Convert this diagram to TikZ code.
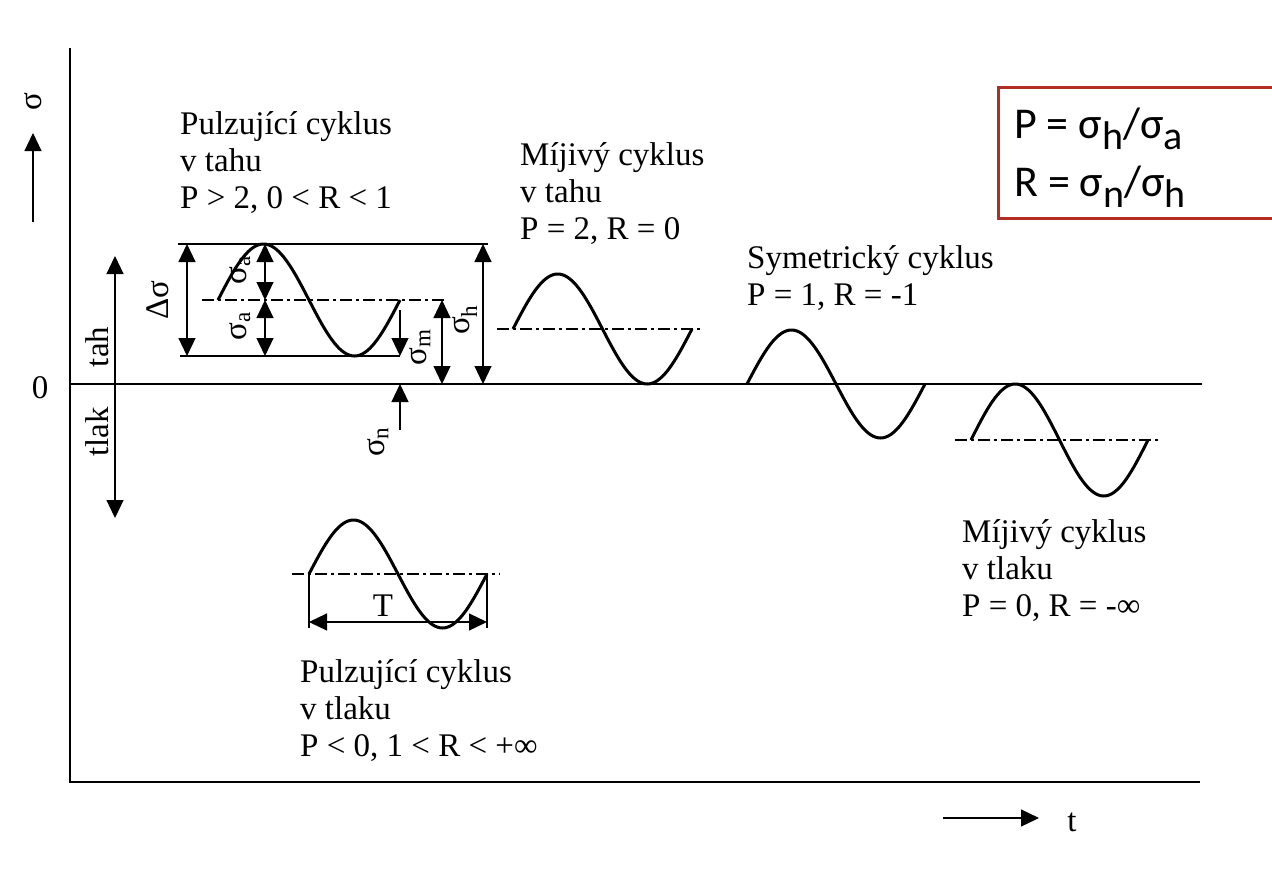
\documentclass[tikz,border=0pt]{standalone}
\usepackage{fontspec}
\setmainfont{Liberation Serif}
\newfontfamily\boxfont{Carlito}
\usetikzlibrary{arrows.meta}
\definecolor{boxred}{RGB}{180,45,35}
\newcommand\boxsub[1]{\raisebox{-11pt}{\fontsize{40}{40}\selectfont #1}}
\begin{document}
\begin{tikzpicture}[x=1pt,y=-1pt,
  axis/.style={line width=1.6pt},
  wave/.style={line width=3pt},
  dim/.style={line width=1.2pt},
  midline/.style={line width=1.3pt, dash pattern=on 12pt off 4pt on 3pt off 4pt},
  tip/.style={-{Triangle[length=18pt,width=17pt]}},
  dtip/.style={{Triangle[length=18pt,width=17pt]}-{Triangle[length=18pt,width=17pt]}},
  lbl/.style={font=\fontsize{33}{37}\selectfont, align=left, anchor=west, inner sep=0pt},
  rlbl/.style={font=\fontsize{33}{33}\selectfont, rotate=90, inner sep=0pt},
  flbl/.style={font=\boxfont\fontsize{44}{44}\selectfont, anchor=base west, inner sep=0pt},
]
\useasboundingbox (0,0) rectangle (1272,868);
\fill[white] (0,0) rectangle (1272,868);

% axes
\coordinate (O) at (70,384);
\coordinate (ytop) at (70,48);
\coordinate (ybot) at (70,782);
\coordinate (xend) at (1202,384);
\coordinate (bend) at (1200,782);
\draw[axis] (ytop) -- (ybot) -- (bend);
\draw[axis] (O) -- (xend);
\node[font=\fontsize{33}{33}\selectfont] (zero) at (40,388) {0};

% sigma axis arrow
\coordinate (sa1) at (33,222);
\coordinate (sa2) at (33,133);
\draw[dim,tip] (sa1) -- (sa2);
\node[rlbl] (sig) at (33,102) {σ};

% t arrow
\coordinate (ta1) at (943,818);
\coordinate (ta2) at (1039,818);
\draw[dim,tip] (ta1) -- (ta2);
\node[font=\fontsize{33}{33}\selectfont] (tlab) at (1072,822) {t};

% tah / tlak
\coordinate (tt) at (115,256);
\coordinate (tb) at (115,518);
\draw[dim,dtip] (tb) -- (tt);
\node[rlbl] (tah) at (97,347) {tah};
\node[rlbl] (tlak) at (97,432) {tlak};

% ---- Pulzujici cyklus v tahu
\coordinate (ptl) at (178,244); \coordinate (ptr) at (488,244);
\coordinate (pbl) at (180,356); \coordinate (pbr) at (400,356);
\coordinate (pml) at (202,300); \coordinate (pmr) at (447,300);
\draw[dim] (ptl) -- (ptr);
\draw[dim] (pbl) -- (pbr);
\draw[midline] (pml) -- (pmr);
\draw[wave] plot[domain=0:360,samples=73,smooth] ({218+\x/360*182},{300-56*sin(\x)});
\coordinate (ds1) at (187,244); \coordinate (ds2) at (187,356);
\draw[dim,dtip] (ds1) -- (ds2);
\node[rlbl] (dsig) at (158,300) {Δσ};
\coordinate (sa_t) at (265,244); \coordinate (sa_m) at (265,300); \coordinate (sa_b) at (265,356);
\draw[dim,dtip] (sa_t) -- (sa_m);
\draw[dim,dtip] (sa_m) -- (sa_b);
\node[rlbl] (siga1) at (240,270) {σ\textsubscript{a}};
\node[rlbl] (siga2) at (240,326) {σ\textsubscript{a}};
\coordinate (sm1) at (442,300); \coordinate (sm2) at (442,384);
\draw[dim,dtip] (sm1) -- (sm2);
\node[rlbl] (sigm) at (420,347) {σ\textsubscript{m}};
\coordinate (sh1) at (483,244); \coordinate (sh2) at (483,384);
\draw[dim,dtip] (sh1) -- (sh2);
\node[rlbl] (sigh) at (465,320) {σ\textsubscript{h}};
\coordinate (sn1) at (400,310); \coordinate (sn2) at (400,356);
\coordinate (sn3) at (400,430); \coordinate (sn4) at (400,384);
\draw[dim,tip] (sn1) -- (sn2);
\draw[dim,tip] (sn3) -- (sn4);
\node[rlbl] (sign) at (378,442) {σ\textsubscript{n}};
\node[lbl] (l1) at (180,163) {Pulzující cyklus\\v tahu\\P > 2, 0 < R < 1};

% ---- Mijivy cyklus v tahu
\coordinate (m1l) at (497,329); \coordinate (m1r) at (703,329);
\draw[midline] (m1l) -- (m1r);
\draw[wave] plot[domain=0:360,samples=73,smooth] ({513+\x/360*179},{329-55*sin(\x)});
\node[lbl] (l2) at (520,194) {Míjivý cyklus\\v tahu\\P = 2, R = 0};

% ---- Symetricky cyklus
\draw[wave] plot[domain=0:360,samples=73,smooth] ({747+\x/360*178},{384-54*sin(\x)});
\node[lbl] (l3) at (747,278) {Symetrický cyklus\\P = 1, R = -1};

% ---- Mijivy cyklus v tlaku
\coordinate (m2l) at (955,440); \coordinate (m2r) at (1160,440);
\draw[midline] (m2l) -- (m2r);
\draw[wave] plot[domain=0:360,samples=73,smooth] ({971+\x/360*177},{440-56*sin(\x)});
\node[lbl] (l4) at (962,571) {Míjivý cyklus\\v tlaku\\P = 0, R = -∞};

% ---- Pulzujici cyklus v tlaku
\coordinate (p2l) at (292,574); \coordinate (p2r) at (500,574);
\draw[midline] (p2l) -- (p2r);
\draw[wave] plot[domain=0:360,samples=73,smooth] ({309+\x/360*178},{574-54*sin(\x)});
\coordinate (v1a) at (309,574); \coordinate (v1b) at (309,628);
\coordinate (v2a) at (487,574); \coordinate (v2b) at (487,628);
\draw[dim] (v1a) -- (v1b);
\draw[dim] (v2a) -- (v2b);
\coordinate (T1) at (309,622); \coordinate (T2) at (487,622);
\draw[dim,dtip] (T1) -- (T2);
\node[font=\fontsize{33}{33}\selectfont] (Tlab) at (383,606) {T};
\node[lbl] (l5) at (300,711) {Pulzující cyklus\\v tlaku\\P < 0, 1 < R < +∞};

% ---- formula box
\coordinate (b1) at (1272,87); \coordinate (b2) at (998,87);
\coordinate (b3) at (998,218); \coordinate (b4) at (1272,218);
\draw[boxred, line width=3pt] (b1) -- (b2) -- (b3) -- (b4);
\node[flbl] (f1) at (1014,138) {P = σ\boxsub{h}/σ\boxsub{a}};
\node[flbl] (f2) at (1014,196) {R = σ\boxsub{n}/σ\boxsub{h}};
\end{tikzpicture}
\end{document}
